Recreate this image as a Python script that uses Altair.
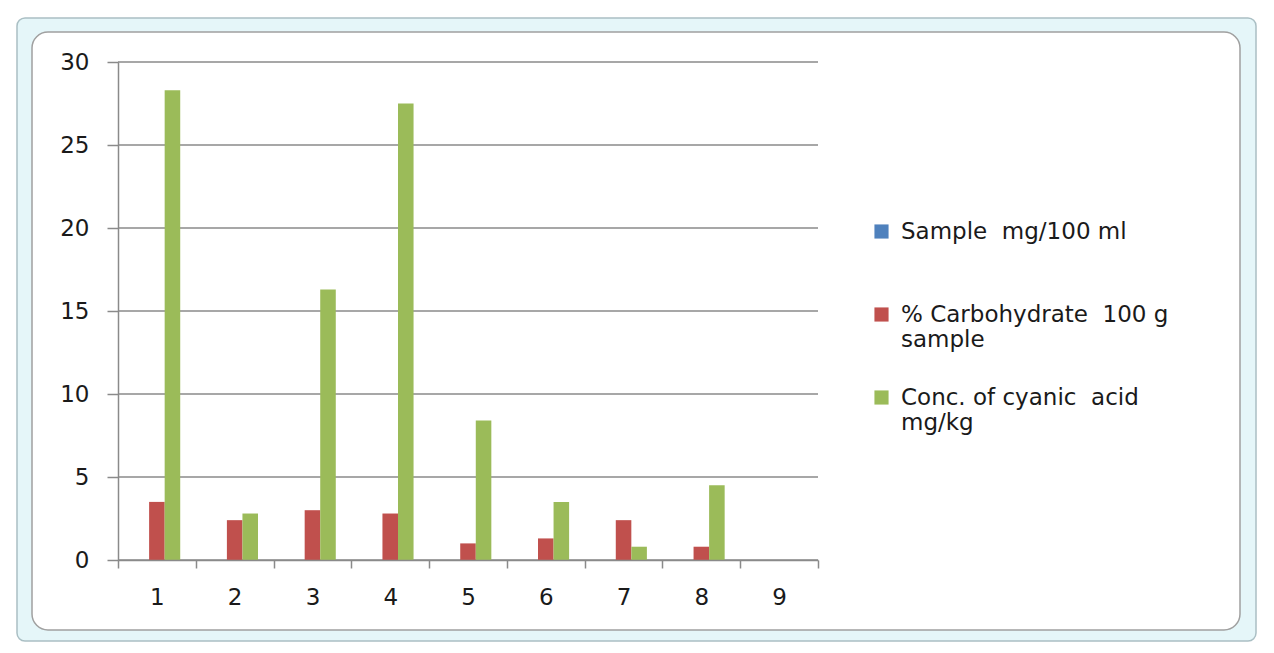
import altair as alt
import pandas as pd

categories = [1, 2, 3, 4, 5, 6, 7, 8, 9]
series_names = [
    "Sample\u00a0 mg/100 ml|",
    "% Carbohydrate\u00a0 100 g|sample",
    "Conc. of cyanic\u00a0 acid|mg/kg",
]
sample_vals = [0, 0, 0, 0, 0, 0, 0, 0, 0]
carb_vals = [3.5, 2.4, 3.0, 2.8, 1.0, 1.3, 2.4, 0.8, 0]
cyanic_vals = [28.3, 2.8, 16.3, 27.5, 8.4, 3.5, 0.8, 4.5, 0]
colors = ["#4F81BD", "#C0504D", "#9BBB59"]
y_ticks = [0, 5, 10, 15, 20, 25, 30]

rows = []
for name, vals in zip(series_names, [sample_vals, carb_vals, cyanic_vals]):
    for c, v in zip(categories, vals):
        rows.append({"cat": c, "series": name, "value": v})
df = pd.DataFrame(rows)

FONT = "DejaVu Sans"
GRAY = "#8a8a8a"

bars = alt.Chart(df).mark_bar(strokeWidth=0).encode(
    x=alt.X(
        "cat:O",
        scale=alt.Scale(paddingInner=0, paddingOuter=0),
        axis=alt.Axis(
            title=None, labelAngle=0, tickBand="extent", tickSize=8,
            grid=False, domainColor=GRAY, tickColor=GRAY, domainWidth=1.5,
            tickWidth=1.5, labelFont=FONT, labelFontSize=23,
            labelColor="#1a1a1a", labelPadding=18, zindex=2,
        ),
    ),
    xOffset=alt.XOffset(
        "series:N",
        scale=alt.Scale(domain=series_names, paddingInner=0, paddingOuter=1),
    ),
    y=alt.Y(
        "value:Q",
        scale=alt.Scale(domain=[0, 30], nice=False),
        axis=alt.Axis(
            title=None, values=y_ticks, tickSize=11, tickColor=GRAY,
            domainColor=GRAY, grid=False, domainWidth=1.5, tickWidth=1.5,
            labelFont=FONT, labelFontSize=23,
            labelColor="#1a1a1a", labelPadding=18, zindex=2,
        ),
    ),
    color=alt.Color(
        "series:N",
        scale=alt.Scale(domain=series_names, range=colors),
        legend=alt.Legend(
            title=None, orient="none", legendX=752, legendY=158,
            direction="vertical", symbolType="square", symbolSize=200,
            symbolStrokeWidth=0, labelFont=FONT, labelFontSize=23,
            labelColor="#1a1a1a", labelExpr="split(datum.label, '|')",
            rowPadding=34, labelLimit=400, labelOffset=8,
        ),
    ),
)

grid = alt.Chart(pd.DataFrame({"v": y_ticks})).mark_rule(
    color=GRAY, strokeWidth=1.3
).encode(y="v:Q")

frame_df = pd.DataFrame({"k": [0]})
outer = alt.Chart(frame_df).mark_rect(
    fill="#e5f6f9", stroke="#aabfc4", strokeWidth=1.5, cornerRadius=8
).encode(
    x=alt.value(-101), x2=alt.value(1138), y=alt.value(-44), y2=alt.value(579)
)
inner = alt.Chart(frame_df).mark_rect(
    fill="#ffffff", stroke="#a0a0a0", strokeWidth=1.5, cornerRadius=16
).encode(
    x=alt.value(-86), x2=alt.value(1122), y=alt.value(-30), y2=alt.value(568)
)

chart = alt.layer(outer, inner, grid, bars).properties(
    width=700,
    height=498,
    padding={"left": 118, "top": 62, "right": 456, "bottom": 93},
    autosize=alt.AutoSizeParams(type="none"),
    background="#ffffff",
).configure_view(strokeWidth=0)

chart.save("out.html", embed_options={"renderer": "svg", "actions": False})
